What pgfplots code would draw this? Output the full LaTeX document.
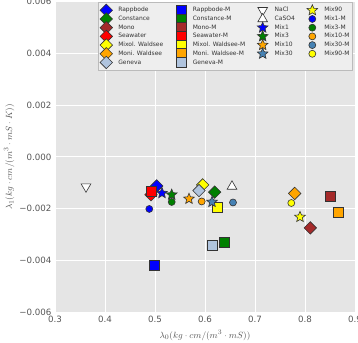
\documentclass[border=0pt]{standalone}
\usepackage{fontspec}
\setmainfont{DejaVu Sans}
\usepackage{pgfplots}
\pgfplotsset{compat=1.18}

\definecolor{bg}{HTML}{E5E5E5}
\definecolor{legbg}{HTML}{EEEEEE}
\definecolor{legframe}{HTML}{BBBBBB}
\definecolor{edge}{HTML}{333333}
\definecolor{txt}{HTML}{555555}
\definecolor{cBlue}{HTML}{0000FF}
\definecolor{cGreen}{HTML}{008000}
\definecolor{cBrown}{HTML}{A52A2A}
\definecolor{cRed}{HTML}{FF0000}
\definecolor{cYellow}{HTML}{FFFF00}
\definecolor{cOrange}{HTML}{FFA500}
\definecolor{cLsb}{HTML}{B0C4DE}
\definecolor{cSteel}{HTML}{4682B4}

% filled five-pointed star
\pgfdeclareplotmark{fstar}{%
  \pgfpathmoveto{\pgfpointpolar{90}{\pgfplotmarksize}}%
  \pgfpathlineto{\pgfpointpolar{126}{0.45\pgfplotmarksize}}%
  \pgfpathlineto{\pgfpointpolar{162}{\pgfplotmarksize}}%
  \pgfpathlineto{\pgfpointpolar{198}{0.45\pgfplotmarksize}}%
  \pgfpathlineto{\pgfpointpolar{234}{\pgfplotmarksize}}%
  \pgfpathlineto{\pgfpointpolar{270}{0.45\pgfplotmarksize}}%
  \pgfpathlineto{\pgfpointpolar{306}{\pgfplotmarksize}}%
  \pgfpathlineto{\pgfpointpolar{342}{0.45\pgfplotmarksize}}%
  \pgfpathlineto{\pgfpointpolar{18}{\pgfplotmarksize}}%
  \pgfpathlineto{\pgfpointpolar{54}{0.45\pgfplotmarksize}}%
  \pgfpathclose
  \pgfusepathqfillstroke
}

\pgfplotsset{
  diam/.style={only marks, mark=square*, mark size=4.4bp,
    mark options={rotate=45, fill=#1, draw=edge, line width=0.6bp}},
  sq/.style={only marks, mark=square*, mark size=5bp,
    mark options={fill=#1, draw=edge, line width=0.6bp}},
  st/.style={only marks, mark=fstar, mark size=5.6bp,
    mark options={fill=#1, draw=edge, line width=0.6bp}},
  ci/.style={only marks, mark=*, mark size=3.5bp,
    mark options={fill=#1, draw=edge, line width=0.6bp}},
  trd/.style={only marks, mark=triangle*, mark size=5.6bp,
    mark options={rotate=180, fill=white, draw=edge, line width=0.6bp}},
  tru/.style={only marks, mark=triangle*, mark size=5.6bp,
    mark options={fill=white, draw=edge, line width=0.6bp}},
}

\begin{document}
\begin{tikzpicture}
\begin{axis}[
  at={(0,0)}, anchor=south west,
  scale only axis, width=300bp, height=310.8bp,
  xmin=0.3, xmax=0.9, ymin=-0.006, ymax=0.006,
  axis background/.style={fill=bg},
  axis line style={draw=none},
  major tick length=0pt,
  grid=major, grid style={white, line width=0.9bp},
  xtick={0.3,0.4,0.5,0.6,0.7,0.8,0.9},
  xticklabels={0.3,0.4,0.5,0.6,0.7,0.8,0.9},
  ytick={-0.006,-0.004,-0.002,0,0.002,0.004,0.006},
  yticklabels={−0.006,−0.004,−0.002,0.000,0.002,0.004,0.006},
  scaled y ticks=false,
  tick label style={font=\fontsize{8.7}{10}\selectfont, text=txt},
  xlabel={$\lambda_0(kg\cdot cm/(m^3\cdot mS))$},
  ylabel={$\lambda_1(kg\cdot cm/(m^3\cdot mS\cdot K))$},
  label style={font=\fontsize{9.5}{11}\selectfont, text=txt},
  x label style={at={(axis description cs:0.5,-0.074)}, anchor=center},
  y label style={at={(axis description cs:-0.153,0.5)}, anchor=center, rotate=0},
  legend columns=4,
  legend cell align=left,
  legend image code/.code={%
    \path[draw=none, fill=none] (-7bp,-3bp) rectangle (7bp,3bp);
    \draw[overlay,#1] plot coordinates {(0bp,0bp)};
  },
  legend style={at={(rel axis cs:0.993,0.998)}, anchor=north east,
    fill=legbg, draw=legframe, line width=0.6bp,
    font=\fontsize{6}{7}\selectfont, text=edge,
    inner xsep=1bp, inner ysep=3.5bp, row sep=0pt,
    nodes={inner xsep=2bp, inner ysep=1.35bp, text height=4.6bp, text depth=1.4bp},
    /tikz/every odd column/.append style={column sep=3bp},
    /tikz/every even column/.append style={column sep=8.5bp}},
]

% lake samples
\addplot[diam=cBlue,   forget plot] coordinates {(0.5034,-0.00112)};
\addplot[diam=cGreen,  forget plot] coordinates {(0.6194,-0.00136)};
\addplot[diam=cBrown,  forget plot] coordinates {(0.8106,-0.00274)};
\addplot[diam=cRed,    forget plot] coordinates {(0.4920,-0.00146)};
\addplot[diam=cYellow, forget plot] coordinates {(0.5954,-0.00108)};
\addplot[diam=cOrange, forget plot] coordinates {(0.7794,-0.00141)};
\addplot[diam=cLsb,    forget plot] coordinates {(0.5880,-0.00130)};

% lake samples, model
\addplot[sq=cBlue,   forget plot] coordinates {(0.4980,-0.00419)};
\addplot[sq=cGreen,  forget plot] coordinates {(0.6380,-0.00331)};
\addplot[sq=cBrown,  forget plot] coordinates {(0.8500,-0.00153)};
\addplot[sq=cRed,    forget plot] coordinates {(0.4920,-0.00131)};
\addplot[sq=cYellow, forget plot] coordinates {(0.6246,-0.00195)};
\addplot[sq=cOrange, forget plot] coordinates {(0.8666,-0.00215)};
\addplot[sq=cLsb,    forget plot] coordinates {(0.6140,-0.00341)};

% pure salts
\addplot[trd, forget plot] coordinates {(0.3620,-0.00115)};
\addplot[tru, forget plot] coordinates {(0.6540,-0.00114)};

% mixtures
\addplot[st=cBlue,   forget plot] coordinates {(0.5140,-0.00140)};
\addplot[st=cGreen,  forget plot] coordinates {(0.5334,-0.00146)};
\addplot[st=cOrange, forget plot] coordinates {(0.5680,-0.00162)};
\addplot[st=cSteel,  forget plot] coordinates {(0.6140,-0.00174)};
\addplot[st=cYellow, forget plot] coordinates {(0.7900,-0.00232)};

% mixtures, model
\addplot[ci=cBlue,   forget plot] coordinates {(0.4886,-0.00201)};
\addplot[ci=cGreen,  forget plot] coordinates {(0.5334,-0.00174)};
\addplot[ci=cOrange, forget plot] coordinates {(0.5934,-0.00172)};
\addplot[ci=cSteel,  forget plot] coordinates {(0.6560,-0.00176)};
\addplot[ci=cYellow, forget plot] coordinates {(0.7726,-0.00178)};

% legend, row by row
\addlegendimage{diam=cBlue}\addlegendentry{Rappbode}
\addlegendimage{sq=cBlue}\addlegendentry{Rappbode-M}
\addlegendimage{trd}\addlegendentry{NaCl}
\addlegendimage{st=cYellow}\addlegendentry{Mix90}

\addlegendimage{diam=cGreen}\addlegendentry{Constance}
\addlegendimage{sq=cGreen}\addlegendentry{Constance-M}
\addlegendimage{tru}\addlegendentry{CaSO4}
\addlegendimage{ci=cBlue}\addlegendentry{Mix1-M}

\addlegendimage{diam=cBrown}\addlegendentry{Mono}
\addlegendimage{sq=cBrown}\addlegendentry{Mono-M}
\addlegendimage{st=cBlue}\addlegendentry{Mix1}
\addlegendimage{ci=cGreen}\addlegendentry{Mix3-M}

\addlegendimage{diam=cRed}\addlegendentry{Seawater}
\addlegendimage{sq=cRed}\addlegendentry{Seawater-M}
\addlegendimage{st=cGreen}\addlegendentry{Mix3}
\addlegendimage{ci=cOrange}\addlegendentry{Mix10-M}

\addlegendimage{diam=cYellow}\addlegendentry{Mixol. Waldsee}
\addlegendimage{sq=cYellow}\addlegendentry{Mixol. Waldsee-M}
\addlegendimage{st=cOrange}\addlegendentry{Mix10}
\addlegendimage{ci=cSteel}\addlegendentry{Mix30-M}

\addlegendimage{diam=cOrange}\addlegendentry{Moni. Waldsee}
\addlegendimage{sq=cOrange}\addlegendentry{Moni. Waldsee-M}
\addlegendimage{st=cSteel}\addlegendentry{Mix30}
\addlegendimage{ci=cYellow}\addlegendentry{Mix90-M}

\addlegendimage{diam=cLsb}\addlegendentry{Geneva}
\addlegendimage{sq=cLsb}\addlegendentry{Geneva-M}
\end{axis}
\pgfresetboundingbox
\path[use as bounding box] (-55bp,-30bp) rectangle (303bp,312.3bp);
\end{tikzpicture}
\end{document}
